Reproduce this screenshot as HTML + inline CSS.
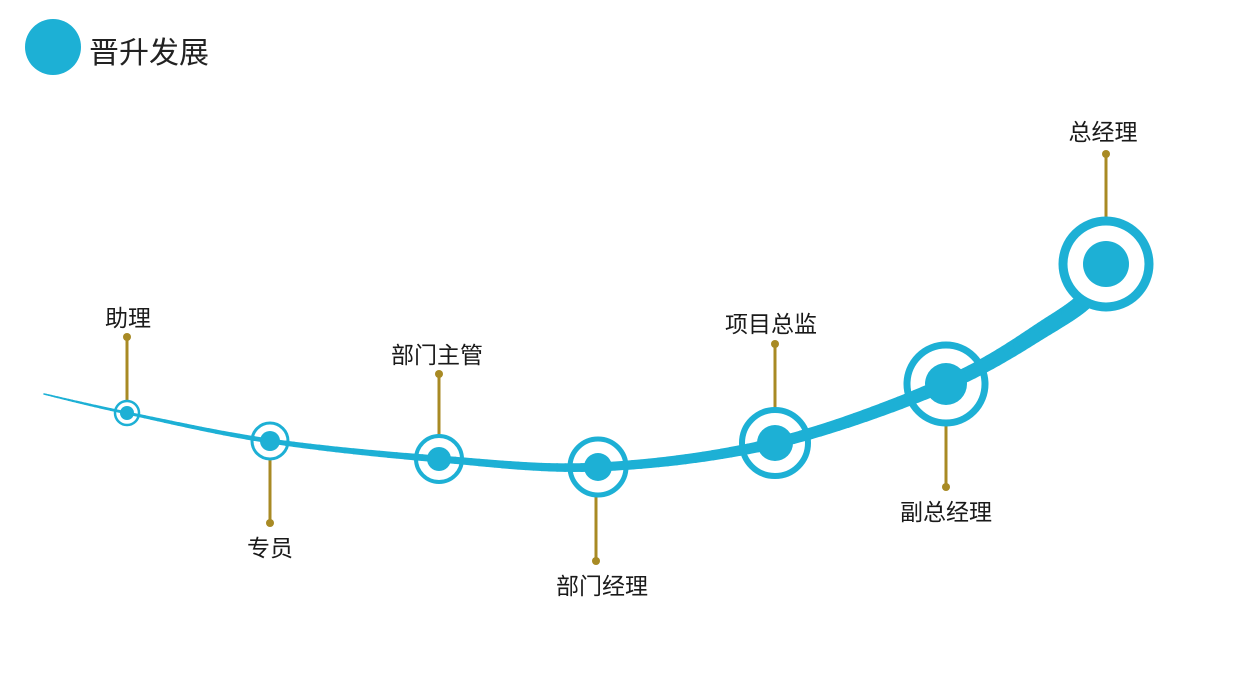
<!DOCTYPE html>
<html><head><meta charset="utf-8"><style>
html,body{margin:0;padding:0;background:#fff;width:1252px;height:694px;overflow:hidden}
svg text{font-family:"Liberation Sans","Noto Sans CJK SC",sans-serif;fill:#1a1a1a}
</style></head><body>
<svg id="s" width="1252" height="694" viewBox="0 0 1252 694">
<circle cx="53" cy="47" r="28" fill="#1db0d5"/>
<text x="89" y="63" font-size="30" style="fill:#222">晋升发展</text>
<g stroke="#a88a24" stroke-width="3" fill="#a88a24">
<line x1="127" y1="337" x2="127" y2="400"/><circle cx="127" cy="337" r="4" stroke="none"/>
<line x1="270" y1="459" x2="270" y2="523"/><circle cx="270" cy="523" r="4" stroke="none"/>
<line x1="439" y1="374" x2="439" y2="436"/><circle cx="439" cy="374" r="4" stroke="none"/>
<line x1="596" y1="495" x2="596" y2="561"/><circle cx="596" cy="561" r="4" stroke="none"/>
<line x1="775" y1="344" x2="775" y2="409"/><circle cx="775" cy="344" r="4" stroke="none"/>
<line x1="946" y1="424" x2="946" y2="487"/><circle cx="946" cy="487" r="4" stroke="none"/>
<line x1="1106" y1="154" x2="1106" y2="220"/><circle cx="1106" cy="154" r="4" stroke="none"/>
</g>
<g fill="#fff" stroke="#1db0d5">
<circle cx="127" cy="413" r="12" stroke-width="2.5"/>
<circle cx="270" cy="441" r="18" stroke-width="3"/>
<circle cx="439" cy="459" r="23" stroke-width="4"/>
<circle cx="598" cy="467" r="28" stroke-width="5"/>
<circle cx="775" cy="443" r="33" stroke-width="6"/>
<circle cx="946" cy="384" r="39" stroke-width="7"/>
</g>
<g id="curve" stroke="#1db0d5" stroke-linecap="round" fill="none"></g>
<circle cx="1106" cy="264" r="43" stroke-width="9" fill="#fff" stroke="#1db0d5"/>
<g fill="#1db0d5">
<circle cx="127" cy="413" r="7"/>
<circle cx="270" cy="441" r="10"/>
<circle cx="439" cy="459" r="12"/>
<circle cx="598" cy="467" r="14"/>
<circle cx="775" cy="443" r="18"/>
<circle cx="946" cy="384" r="21"/>
<circle cx="1106" cy="264" r="23"/>
</g>
<g font-size="23" text-anchor="middle">
<text x="128" y="326">助理</text>
<text x="270" y="556">专员</text>
<text x="437" y="363">部门主管</text>
<text x="602" y="594">部门经理</text>
<text x="771" y="332">项目总监</text>
<text x="946" y="520">副总经理</text>
<text x="1103" y="140">总经理</text>
</g>
</svg>
<script>
var P=[[44,394,1.5],[127,413,3],[270,441,5],[439,459,7],[598,467,9],[775,443,11],[946,384,14],[1050,325,17],[1090,295,18],[1106,264,18]];
var g=document.getElementById('curve'),ns='http://www.w3.org/2000/svg';
function cr(a,b,c,d,t){var t2=t*t,t3=t2*t;return 0.5*((2*b)+(-a+c)*t+(2*a-5*b+4*c-d)*t2+(-a+3*b-3*c+d)*t3);}
var pts=[];
for(var i=0;i<P.length-1;i++){var a=P[Math.max(0,i-1)],b=P[i],c=P[i+1],d=P[Math.min(P.length-1,i+2)];
for(var k=0;k<20;k++){var t=k/20;pts.push([cr(a[0],b[0],c[0],d[0],t),cr(a[1],b[1],c[1],d[1],t),b[2]+(c[2]-b[2])*t]);}}
pts.push(P[P.length-1]);
for(var j=0;j<pts.length-1;j++){var l=document.createElementNS(ns,'line');
l.setAttribute('x1',pts[j][0]);l.setAttribute('y1',pts[j][1]);l.setAttribute('x2',pts[j+1][0]);l.setAttribute('y2',pts[j+1][1]);
l.setAttribute('stroke-width',pts[j][2]);g.appendChild(l);}
</script>
</body></html>
